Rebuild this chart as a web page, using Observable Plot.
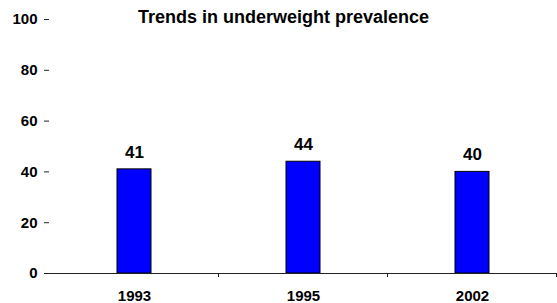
<!DOCTYPE html>
<html>
<head>
<meta charset="utf-8">
<script src="https://cdn.jsdelivr.net/npm/d3@7"></script>
<script src="https://cdn.jsdelivr.net/npm/@observablehq/plot@0.6"></script>
<style>
  html, body { margin: 0; padding: 0; background: #fff; }
  #wrap { position: relative; width: 557px; height: 303px; font-family: Arial, "Liberation Sans", sans-serif; }
  #title { position: absolute; left: 0; width: 567px; top: 7px; text-align: center; font-weight: bold; font-size: 18px; color: #000; }
</style>
</head>
<body>
<div id="wrap"><div id="title">Trends in underweight prevalence</div></div>
<script>
const years = ["1993", "1995", "2002"];
const values = [41, 44, 40];
const yTicks = [0, 20, 40, 60, 80, 100];

const data = years.map((year, i) => ({year, value: values[i]}));

function boundaryTicks(index, scales, vals, dimensions) {
  const x = scales.x;
  const step = x.step ? x.step() : 0;
  const bw = x.bandwidth ? x.bandwidth() : 0;
  const y0 = dimensions.height - dimensions.marginBottom;
  const g = d3.create("svg:g").attr("stroke", "#222").attr("stroke-width", 1);
  years.forEach(yr => {
    const xb = x(yr) + bw / 2 + step / 2;
    g.append("line").attr("x1", xb).attr("x2", xb).attr("y1", y0).attr("y2", y0 + 4);
  });
  return g.node();
}

const chart = Plot.plot({
  width: 557,
  height: 303,
  marginLeft: 49,
  marginRight: 1,
  marginTop: 19,
  marginBottom: 30,
  style: {fontFamily: "Arial, 'Liberation Sans', sans-serif", fontWeight: "bold", color: "#000", background: "#fff"},
  x: {domain: years, paddingInner: 0.8, paddingOuter: 0.4},
  y: {domain: [0, 100]},
  marks: [
    Plot.axisX({label: null, tickSize: 0, tickPadding: 17, fontSize: 15, fontWeight: "bold", fill: "#000"}),
    Plot.axisY({ticks: yTicks, label: null, tickSize: 5, tickPadding: 7, fontSize: 15, fontWeight: "bold", fill: "#000", stroke: "#222"}),
    Plot.barY(data, {x: "year", y: "value", fill: "#0000ff", stroke: "#000", strokeWidth: 1}),
    Plot.text(data, {x: "year", y: "value", text: d => String(d.value), dy: -17, fontSize: 17, fontWeight: "bold", fill: "#000"}),
    Plot.ruleX([0], {frameAnchor: "left", stroke: "#222", strokeWidth: 1}),
    Plot.ruleY([0], {stroke: "#222", strokeWidth: 1}),
    boundaryTicks
  ]
});
document.getElementById("wrap").appendChild(chart);
</script>
</body>
</html>
